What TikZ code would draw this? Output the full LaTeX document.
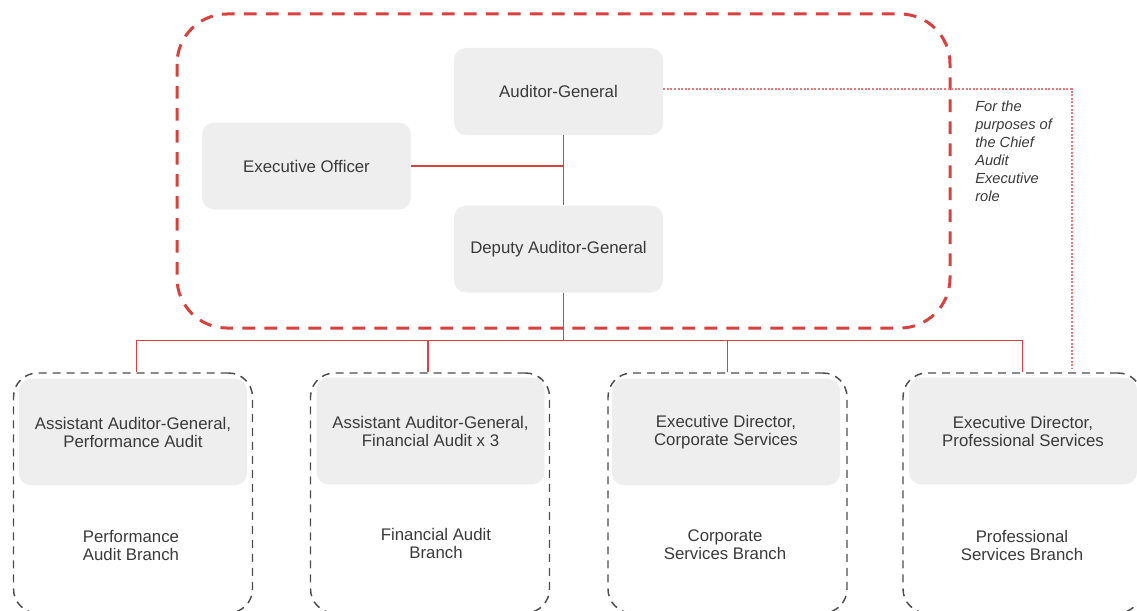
\documentclass[tikz,border=0pt]{standalone}
\usepackage{fontspec}
\setmainfont{Liberation Sans}
\usepackage{xcolor}
\usetikzlibrary{positioning}

\definecolor{boxgray}{HTML}{EEEEEE}
\definecolor{textgray}{HTML}{3A3A3A}
\definecolor{dashgray}{HTML}{4D4D4D}
\definecolor{linkred}{HTML}{D9413F}
\definecolor{dotred}{HTML}{E57A78}

\begin{document}
\begin{tikzpicture}[
            x=0.75pt, y=-0.75pt,
            every node/.style={text=textgray, font=\fontsize{12.6}{13.5}\selectfont, align=center},
            post/.style={rectangle, rounded corners=9pt, fill=boxgray, minimum width=156.75pt, minimum height=65.25pt},
            head/.style={post, minimum width=171pt, minimum height=80pt},
            unit/.style={rectangle, rounded corners=18pt, draw=dashgray, line width=1.1pt, dash pattern=on 6pt off 4.5pt, minimum width=179.25pt, minimum height=180pt},
            office/.style={draw=linkred, line width=2.25pt, dash pattern=on 9.5pt off 7pt, rounded corners=37.5pt},
            link/.style={draw=linkred, line width=1pt},
            cae/.style={draw=dotred, line width=1.5pt, dash pattern=on 1.5pt off 1.2pt}
        ]
        \clip (0,0) rectangle (1137,610);

        % top office
        \draw[office] (177,14) rectangle (950,328);
        \node[post] (auditor) at (558.5,91.5) {Auditor-General};
        \node[post] (officer) at (306.5,166) {Executive Officer};
        \node[post] (deputy) at (558.5,249) {Deputy Auditor-General};

        % branches
        \node[unit] (branch1) at (133,493) {};
        \node[unit] (branch2) at (430,493) {};
        \node[unit] (branch3) at (727.5,493) {};
        \node[unit] (branch4) at (1022.5,493) {};

        \node[head] (head1) at (133,432) {Assistant Auditor-General,\\Performance Audit};
        \node[head] (head2) at (430.5,431) {Assistant Auditor-General,\\Financial Audit x 3};
        \node[head] (head3) at (726,432) {Executive Director,\\Corporate Services};
        \node[head] (head4) at (1023,431) {Executive Director,\\Professional Services};

        \node (label1) at (131,545) {Performance\\Audit Branch};
        \node (label2) at (436,543) {Financial Audit\\Branch};
        \node (label3) at (725,545) {Corporate\\Services Branch};
        \node (label4) at (1022,545) {Professional\\Services Branch};

        % reporting lines
        \draw[link] ([xshift=3.5pt]auditor.south) -- ([xshift=3.5pt]deputy.north);
        \draw[link] (officer.east) -- ([xshift=3.5pt]officer.east -| auditor.south);
        \draw[link] ([xshift=3.5pt]deputy.south) -- ++(0,48) coordinate (bus);
        \draw[link] ([xshift=2.5pt]branch1.north) |- (branch4.north |- bus) -- (branch4.north);
        \draw[link] ([xshift=-1.5pt]branch2.north) -- ([xshift=-1.5pt]branch2.north |- bus);
        \draw[link] (branch3.north) -- (branch3.north |- bus);

        % chief audit executive line
        \coordinate (caeend) at (1072,369);
        \draw[cae] ([yshift=2pt]auditor.east) -| (caeend);
        \node[anchor=north west, inner sep=0pt, align=left, font=\itshape\fontsize{11}{13.5}\selectfont] (caenote) at (975,101)
            {For the\\purposes of\\the Chief\\Audit\\Executive\\role};

    \end{tikzpicture}
\end{document}
